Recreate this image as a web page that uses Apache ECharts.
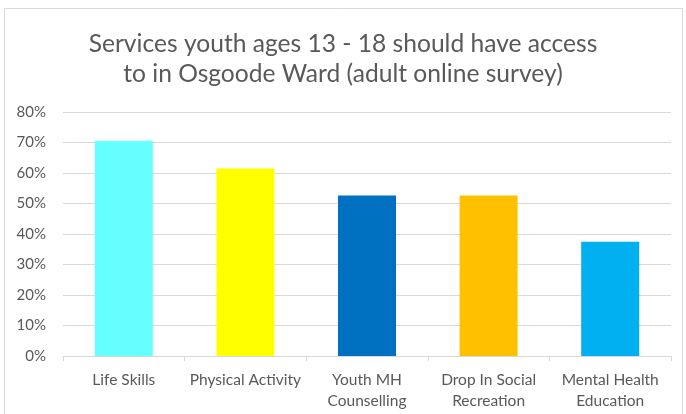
<!DOCTYPE html>
<html>
<head>
<meta charset="utf-8">
<script src="https://cdn.jsdelivr.net/npm/echarts@6/dist/echarts.min.js"></script>
<style>
  html, body { margin: 0; padding: 0; background: #fff; }
  #chart { width: 686px; height: 414px; }
</style>
</head>
<body>
<div id="chart"></div>
<script>
// Share of adult respondents choosing each service
const categories = ['Life Skills', 'Physical Activity', 'Youth MH\nCounselling', 'Drop In Social\nRecreation', 'Mental Health\nEducation'];
const shares = [70.6, 61.5, 52.6, 52.6, 37.5];
const barColors = ['#66FFFF', '#FFFF00', '#0070C0', '#FFC000', '#00B0F0'];
const yTicks = { min: 0, max: 80, interval: 10 };
const titleText = 'Services youth ages 13 - 18 should have access\nto in Osgoode Ward (adult online survey)';

const chart = echarts.init(document.getElementById('chart'), null, { renderer: 'canvas' });
const font = 'Lato, "Open Sans", sans-serif';

chart.setOption({
  backgroundColor: '#fff',
  animation: false,
  title: {
    text: titleText,
    left: 'center',
    top: 24,
    textStyle: { fontFamily: font, fontSize: 24.6, fontWeight: 'normal', color: '#595959', lineHeight: 30 }
  },
  graphic: [{
    type: 'rect',
    shape: { x: 4.5, y: 8.5, width: 678, height: 420 },
    style: { fill: 'none', stroke: '#d9d9d9', lineWidth: 1 },
    silent: true
  }],
  grid: { left: 63, right: 15, top: 112, bottom: 58, containLabel: false },
  xAxis: {
    type: 'category',
    data: categories,
    axisLine: { lineStyle: { color: '#d9d9d9' } },
    axisTick: { show: true, length: 5, lineStyle: { color: '#d9d9d9' } },
    axisLabel: { fontFamily: font, fontSize: 15.5, color: '#595959', margin: 13, lineHeight: 21, interval: 0 }
  },
  yAxis: {
    type: 'value',
    min: yTicks.min,
    max: yTicks.max,
    interval: yTicks.interval,
    axisLine: { show: false },
    axisTick: { show: false },
    axisLabel: { fontFamily: font, fontSize: 15, color: '#595959', margin: 17, formatter: v => v + '%' },
    splitLine: { lineStyle: { color: '#d9d9d9', width: 1 } }
  },
  series: [{
    type: 'bar',
    data: shares.map((v, i) => ({ value: v, itemStyle: { color: barColors[i] } })),
    barWidth: '47.7%'
  }]
});
</script>
</body>
</html>
